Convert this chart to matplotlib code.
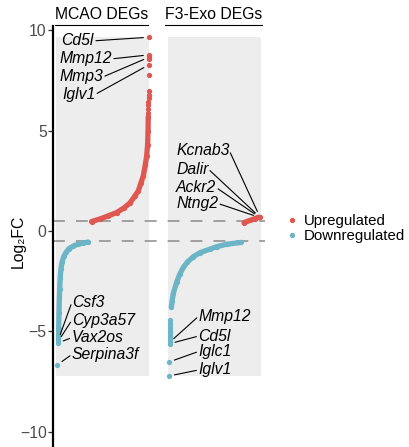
import matplotlib.pyplot as plt
from matplotlib.lines import Line2D

plt.rcParams['font.family'] = ['Liberation Sans', 'DejaVu Sans']

red = '#DE5750'
blue = '#6BB5C6'
fs = 11.3

panels = ['MCAO DEGs', 'F3-Exo DEGs']
panel_x0 = [0, 1.205]

# rank position inside panel (0-1) and log2FC
mcao_down_rank = [0.027, 0.029, 0.032, 0.037, 0.040, 0.045, 0.053, 0.065, 0.086, 0.111, 0.140, 0.186, 0.237, 0.290, 0.344]
mcao_down_lfc = [-5.35, -4.90, -4.10, -3.30, -2.90, -2.35, -1.90, -1.55, -1.25, -1.05, -0.88, -0.75, -0.66, -0.60, -0.55]
mcao_up_rank = [0.382, 0.473, 0.559, 0.653, 0.731, 0.796, 0.849, 0.885, 0.914, 0.939, 0.960, 0.975, 0.985, 0.990, 0.992]
mcao_up_lfc = [0.47, 0.60, 0.75, 0.92, 1.15, 1.40, 1.75, 2.00, 2.40, 2.75, 3.30, 3.75, 4.30, 5.00, 5.70]
mcao_tail_rank = [0.993, 0.993, 0.994, 0.994, 0.995, 0.995, 0.996, 0.996, 0.997]
mcao_tail_lfc = [5.90, 6.10, 6.30, 6.45, 6.62, 6.80, 7.00, 7.78, 8.56]

f3_down_rank = [0.035, 0.043, 0.057, 0.094, 0.126, 0.165, 0.208, 0.272, 0.344, 0.452, 0.524, 0.631, 0.785]
f3_down_lfc = [-3.80, -3.50, -3.10, -2.53, -2.15, -1.81, -1.55, -1.28, -1.08, -0.90, -0.78, -0.66, -0.57]
f3_tail_rank = [0.020, 0.020, 0.019, 0.019, 0.019, 0.018, 0.018, 0.018, 0.018]
f3_tail_lfc = [-4.44, -4.58, -4.71, -4.84, -4.97, -5.10, -5.24, -5.37, -5.48]
f3_up_rank = [0.817, 0.882, 0.935, 0.971]
f3_up_lfc = [0.42, 0.53, 0.62, 0.68]

# labelled genes: panel, name, rank, log2FC
gene_panel = [0, 0, 0, 0, 0, 0, 0, 0, 1, 1, 1, 1, 1, 1, 1, 1]
gene_name = ['Cd5l', 'Mmp12', 'Mmp3', 'Iglv1', 'Csf3', 'Cyp3a57', 'Vax2os', 'Serpina3f',
             'Kcnab3', 'Dalir', 'Ackr2', 'Ntng2', 'Mmp12', 'Cd5l', 'Iglc1', 'Iglv1']
gene_rank = [0.999, 0.998, 0.998, 0.997, 0.026, 0.024, 0.022, 0.016,
             0.985, 0.982, 0.978, 0.975, 0.017, 0.017, 0.011, 0.010]
gene_lfc = [9.66, 8.78, 8.66, 8.28, -5.42, -5.50, -5.58, -6.67,
            0.72, 0.71, 0.70, 0.69, -5.55, -5.62, -6.53, -7.23]
# label text positions (panel rank, log2FC)
label_x = [0.059, 0.035, 0.035, 0.065, 0.169, 0.169, 0.169, 0.169,
           0.086, 0.086, 0.086, 0.086, 0.326, 0.326, 0.326, 0.326]
label_y = [9.48, 8.58, 7.68, 6.81, -3.58, -4.46, -5.32, -6.16,
           3.99, 3.08, 2.16, 1.37, -4.26, -5.24, -6.01, -6.93]

fig = plt.figure(figsize=(4.09, 4.47), dpi=100)
ax = fig.add_axes([53 / 409, 0, 212 / 409, 421 / 447])

all_lfc = mcao_down_lfc + mcao_up_lfc + mcao_tail_lfc + f3_down_lfc + f3_tail_lfc + f3_up_lfc + gene_lfc
ymin, ymax = min(all_lfc), max(all_lfc)
for x0 in panel_x0:
    ax.fill_between([x0, x0 + 1], ymin, ymax, color='#EDEDED', lw=0, zorder=0)

ax.axhline(0.5, color='#8A8A8A', lw=1.1, ls=(0, (7.8, 7.2)), zorder=1)
ax.axhline(-0.5, color='#8A8A8A', lw=1.1, ls=(0, (7.8, 7.2)), zorder=1)


def draw(x0, ranks, vals, color, curve=True):
    xs = [x0 + r for r in ranks]
    if curve:
        ax.plot(xs, vals, color=color, lw=3.8, solid_capstyle='round', zorder=2)
    ax.plot(xs, vals, 'o', color=color, ms=3.8, mec='none', zorder=3)


draw(panel_x0[0], mcao_down_rank, mcao_down_lfc, blue)
draw(panel_x0[0], mcao_up_rank, mcao_up_lfc, red)
draw(panel_x0[0], mcao_tail_rank, mcao_tail_lfc, red, curve=False)
draw(panel_x0[1], f3_down_rank, f3_down_lfc, blue)
draw(panel_x0[1], f3_tail_rank, f3_tail_lfc, blue, curve=False)
draw(panel_x0[1], f3_up_rank, f3_up_lfc, red)

for p, name, r, v, tx, ty in zip(gene_panel, gene_name, gene_rank, gene_lfc, label_x, label_y):
    x0 = panel_x0[p]
    col = red if v > 0 else blue
    ax.plot(x0 + r, v, 'o', color=col, ms=3.8, mec='none', zorder=3)
    start = (1, 0.5) if tx < r else (0, 0.5)
    ax.annotate(name, xy=(x0 + r, v), xytext=(x0 + tx, ty), ha='left', va='center',
                fontsize=fs, fontstyle='italic',
                arrowprops=dict(arrowstyle='-', color='black', lw=0.8, shrinkA=1.5,
                                shrinkB=4, relpos=start, patchA=None))

ax.set_xlim(-0.032, 2.247)
ax.set_ylim(-10.77, 10.22)
ax.set_yticks([-10, -5, 0, 5, 10])
ax.set_xticks([])
for s in ['top', 'right', 'bottom']:
    ax.spines[s].set_visible(False)
ax.spines['left'].set_linewidth(1.6)
ax.tick_params(axis='y', length=3.5, width=0.9, pad=1, labelsize=fs, labelcolor='#4D4D4D', color='#333333')
ax.set_facecolor('none')

titles = []
for x0, name in zip(panel_x0, panels):
    titles.append(ax.text(x0 + 0.488, 10.56, name, ha='center', va='baseline', fontsize=fs, clip_on=False))
fig.canvas.draw()
inv = ax.transData.inverted()
for t in titles:
    bb = t.get_window_extent()
    xa = inv.transform((bb.x0, 0))[0]
    xb = inv.transform((bb.x1, 0))[0]
    ax.plot([xa, xb], [10.27, 10.27], color='black', lw=0.8, clip_on=False)

fig.text(18 / 409, 1 - 241.5 / 447, 'Log₂FC', rotation=90, ha='center', va='center', fontsize=fs)

handles = [Line2D([0], [0], marker='o', ls='', color=red, ms=3.8, mec='none'),
           Line2D([0], [0], marker='o', ls='', color=blue, ms=3.8, mec='none')]
fig.legend(handles, ['Upregulated', 'Downregulated'], loc='center left',
           bbox_to_anchor=(285.5 / 409, 1 - 228.75 / 447), frameon=False, borderpad=0,
           borderaxespad=0, handlelength=0.8, handletextpad=0.4, labelspacing=0.05, fontsize=10.8)

fig.savefig('out.png', dpi=100)
